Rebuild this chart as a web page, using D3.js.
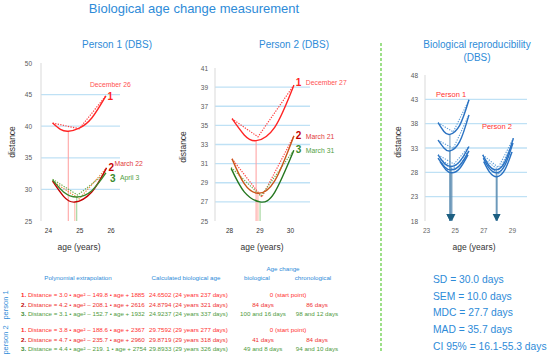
<!DOCTYPE html>
<html>
<head>
<meta charset="utf-8">
<script src="https://cdn.jsdelivr.net/npm/d3@7"></script>
<style>
  body { margin: 0; background: #fff; }
  svg { display: block; font-family: "Liberation Sans", Arial, sans-serif; }
</style>
</head>
<body>
<div id="chart"></div>
<script>
/// DATA

// panel 1 - person 1
const p1YTicks = [25, 30, 35, 40, 45, 50]
const p1XTicks = [24, 25, 26]
const p1Fits = [
  [[24.15, 40.5], [24.4, 39.5], [24.65, 39.2], [25.0, 39.7], [25.4, 41.3], [25.85, 44.8]],
  [[24.15, 31.3], [24.5, 28.9], [24.86, 28.0], [25.4, 29.6], [25.87, 33.4]],
  [[24.15, 31.5], [24.5, 29.6], [24.92, 28.8], [25.4, 29.8], [25.85, 32.6]],
]
const p1Obs = [
  [[24.15, 40.5], [25.0, 39.6], [25.85, 44.8]],
  [[24.15, 31.3], [25.0, 28.5], [25.87, 33.4]],
  [[24.15, 31.6], [24.95, 29.1], [25.85, 32.6]],
]
const p1Dates = ["December 26", "March 22", "April 3"]

// panel 2 - person 2
const p2YTicks = [25, 27, 29, 31, 33, 35, 37, 39, 41]
const p2XTicks = [28, 29, 30]
const p2Fits = [
  [[28.1, 35.7], [28.5, 34.0], [28.89, 33.4], [29.5, 34.8], [30.13, 39.2]],
  [[28.1, 31.5], [28.5, 28.9], [28.95, 27.9], [29.5, 29.2], [30.13, 33.9]],
  [[28.07, 30.5], [28.5, 28.05], [29.02, 27.0], [29.5, 28.0], [30.13, 32.4]],
]
const p2Obs = [
  [[28.1, 35.7], [28.95, 33.8], [30.13, 39.2]],
  [[28.1, 31.5], [29.08, 27.5], [30.13, 33.9]],
  [[28.07, 30.6], [29.05, 27.6], [30.1, 32.3]],
]
const p2Dates = ["December 27", "March 21", "March 31"]
const runs = ["1", "2", "3"]

// panel 3 - reproducibility
const p3YTicks = [18, 23, 28, 33, 38, 43, 48]
const p3XTicks = [23, 25, 27, 29]
const p3Fits = [
  [[23.84, 38.2], [24.25, 36.4], [24.67, 35.8], [25.35, 37.65], [26.0, 42.9]],
  [[23.84, 34.6], [24.25, 33.0], [24.67, 32.4], [25.35, 34.3], [26.0, 39.8]],
  [[23.84, 31.6], [24.3, 29.8], [24.74, 29.2], [25.35, 30.2], [26.0, 33.3]],
  [[23.84, 30.9], [24.3, 29.1], [24.74, 28.5], [25.35, 29.4], [26.0, 32.4]],
  [[23.98, 30.2], [24.4, 28.5], [24.81, 27.9], [25.35, 28.8], [25.93, 31.6]],
  [[26.96, 31.6], [27.4, 29.4], [27.9, 28.5], [28.5, 30.1], [29.1, 35.0]],
  [[27.0, 30.9], [27.45, 28.7], [27.95, 27.9], [28.5, 29.4], [29.07, 34.0]],
  [[27.03, 30.2], [27.45, 28.0], [27.95, 27.1], [28.5, 28.5], [29.0, 32.2]],
]
const p3Obs = [
  [[23.84, 38.2], [24.9, 36.3], [26.0, 42.9]],
  [[23.84, 34.6], [24.9, 32.9], [26.0, 39.8]],
  [[23.84, 31.6], [24.95, 29.7], [26.0, 33.3]],
  [[23.84, 30.9], [24.95, 29.0], [26.0, 32.4]],
  [[23.98, 30.2], [25.0, 28.4], [25.93, 31.6]],
  [[26.96, 31.6], [28.05, 29.0], [29.1, 35.0]],
  [[27.0, 30.9], [28.1, 28.4], [29.07, 34.0]],
  [[27.03, 30.2], [28.1, 27.6], [29.0, 32.2]],
]
const p3Persons = ["Person 1", "Person 2"]
const p3PersonAt = [[24.75, 44.1], [27.95, 37.5]]

// table
const p1Formulas = [
  "Distance = 3.0 • age² – 149.8 • age + 1885",
  "Distance = 4.2 • age² – 208.1 • age + 2616",
  "Distance = 3.1 • age² – 152.7 • age + 1932",
]
const p2Formulas = [
  "Distance = 3.8 • age² – 188.6 • age + 2367",
  "Distance = 4.7 • age² – 235.7 • age + 2960",
  "Distance = 4.4 • age² – 219. 1 • age + 2754",
]
const p1BioAges = ["24.6502  (24 years 237 days)", "24.8794  (24 years 321 days)", "24.9237  (24 years 337 days)"]
const p2BioAges = ["29.7592  (29 years 277 days)", "29.8719  (29 years 318 days)", "29.8933  (29 years 326 days)"]
const p1BioChange = ["0 (start point)", "84 days", "100  and 16 days"]
const p1ChronoChange = ["", "86 days", "98  and 12 days"]
const p2BioChange = ["0 (start point)", "41 days", "49  and 8 days"]
const p2ChronoChange = ["", "84 days", "94  and 10 days"]

const stats = ["SD = 30.0 days", "SEM = 10.0 days", "MDC = 27.7 days", "MAD = 35.7 days", "CI 95% = 16.1-55.3 days"]

/// COLORS

const blue = "#2e8bd8"
const fitColors1 = ["#ff2424", "#c40000", "#3a8a2c"]
const fitColors2 = ["#ff2424", "#c9561a", "#25771f"]
const obsColors1 = ["#ff4040", "#f0883a", "#6fae4c"]
const obsColors2 = ["#ff4040", "#ff4848", "#6fae4c"]
const dropColors = ["#ff9c9c", "#ffb0a0", "#96cf8f"]
const numColors = ["#ff1f1f", "#c40000", "#3a8a2c"]
const dateColors = ["#ff5252", "#e23a3a", "#52a044"]
const rowColors = ["#ff3030", "#ef2f2f", "#4f9a3c"]
const numRowColors = ["#ff1f1f", "#c00000", "#3a8a2c"]

const width = 550
const height = 358
const bottomY = 221

const svg = d3
  .select("#chart")
  .append("svg")
  .attr("width", width)
  .attr("height", height)

const defs = svg.append("defs")
defs
  .append("marker")
  .attr("id", "arrow")
  .attr("markerUnits", "userSpaceOnUse")
  .attr("markerWidth", 8)
  .attr("markerHeight", 8)
  .attr("viewBox", "0 0 8 8")
  .attr("refX", 7)
  .attr("refY", 4)
  .attr("orient", "auto")
  .append("path")
  .attr("d", "M0,0.5 L7,4 L0,7.5 Z")
  .attr("fill", "#1d5f82")

/// TITLE

svg
  .append("text")
  .attr("x", 194)
  .attr("y", 13)
  .attr("text-anchor", "middle")
  .style("font-size", "13px")
  .style("fill", blue)
  .text("Biological age change measurement")

/// PANELS

const panel = function (o) {
  const x = d3.scaleLinear().domain(o.xDomain).range(o.xRange)
  const y = d3
    .scaleLinear()
    .domain([o.yTicks[0], o.yTicks[o.yTicks.length - 1]])
    .range([bottomY, o.yTop])

  const g = svg.append("g")

  // gridlines
  g.selectAll(".grid")
    .data(o.yTicks.slice(1, -1))
    .join("line")
    .attr("x1", o.xRange[0])
    .attr("x2", o.xRange[1])
    .attr("y1", (d) => y(d))
    .attr("y2", (d) => y(d))
    .attr("stroke", "#bfe1f5")
    .attr("stroke-width", 1.3)

  g.append("line")
    .attr("x1", o.xRange[0])
    .attr("x2", o.xRange[0])
    .attr("y1", y.range()[1])
    .attr("y2", y.range()[0])
    .attr("stroke", "#d9d9d9")

  const yAxis = g
    .append("g")
    .attr("transform", `translate(${o.xRange[0]},0)`)
    .call(d3.axisLeft(y).tickValues(o.yTicks).tickSize(0).tickPadding(o.pad))
  yAxis.select(".domain").remove()
  yAxis.selectAll("text").style("font-size", "6.5px").style("fill", "#595959").style("font-family", "Liberation Sans, Arial")

  const xAxis = g
    .append("g")
    .attr("transform", `translate(0,${bottomY})`)
    .call(d3.axisBottom(x).tickValues(o.xTicks).tickFormat(d3.format("d")).tickSize(0).tickPadding(7))
  xAxis.select(".domain").remove()
  xAxis.selectAll("text").style("font-size", "6.5px").style("fill", o.xTickColor).style("font-family", "Liberation Sans, Arial")

  g.append("text")
    .attr("x", o.xLabel)
    .attr("y", 250)
    .attr("text-anchor", "middle")
    .style("font-size", "8.5px")
    .style("fill", "#333")
    .text("age (years)")

  g.append("text")
    .attr("transform", `translate(${o.yLabel},${o.yLabelY}) rotate(-90)`)
    .attr("text-anchor", "middle")
    .style("font-size", "8.5px")
    .style("fill", "#333")
    .text("distance")

  o.titles.forEach((t, i) => {
    g.append("text")
      .attr("x", o.titleX)
      .attr("y", 48 + i * 13)
      .attr("text-anchor", "middle")
      .style("font-size", "10px")
      .style("fill", blue)
      .text(t)
  })

  return { g, x, y }
}

const line = (x, y) =>
  d3
    .line()
    .x((d) => x(d[0]))
    .y((d) => y(d[1]))

const drawRuns = function (p, fits, obs, fitColors, obsColors, numDx, numDy) {
  const { g, x, y } = p
  const vertices = fits.map((f) => d3.least(f, (d) => d[1]))

  g.selectAll(".drop")
    .data(vertices)
    .join("line")
    .attr("x1", (d) => x(d[0]))
    .attr("x2", (d) => x(d[0]))
    .attr("y1", (d) => y(d[1]))
    .attr("y2", bottomY)
    .attr("stroke", (d, i) => dropColors[i])
    .attr("stroke-width", 1)

  g.selectAll(".obs")
    .data(obs)
    .join("path")
    .attr("d", line(x, y))
    .attr("fill", "none")
    .attr("stroke", (d, i) => obsColors[i])
    .attr("stroke-width", 1.2)
    .attr("stroke-dasharray", "1.3,1.3")

  g.selectAll(".fit")
    .data(fits)
    .join("path")
    .attr("d", line(x, y).curve(d3.curveNatural))
    .attr("fill", "none")
    .attr("stroke", (d, i) => fitColors[i])
    .attr("stroke-width", 1.4)

  fits.forEach((f, i) => {
    const end = f[f.length - 1]
    g.append("text")
      .attr("x", x(end[0]) + numDx[i])
      .attr("y", y(end[1]) + numDy[i])
      .style("font-size", "10px")
      .style("font-weight", "bold")
      .style("fill", numColors[i])
      .text(runs[i])
  })
  return vertices
}

// person 1
const p1 = panel({
  xDomain: [23.78, 26.3],
  xRange: [41, 120],
  yTicks: p1YTicks,
  xTicks: p1XTicks,
  yTop: 63,
  pad: 9,
  xTickColor: "#333",
  xLabel: 79,
  yLabel: 15,
  yLabelY: 142,
  titleX: 117,
  titles: ["Person 1 (DBS)"],
})
drawRuns(p1, p1Fits, p1Obs, fitColors1, obsColors1, [1.5, 2, 4], [4, 3, 9])
p1Dates.forEach((d, i) => {
  const end = p1Fits[i][p1Fits[i].length - 1]
  p1.g
    .append("text")
    .attr("x", i === 0 ? p1.x(end[0]) - 16 : p1.x(end[0]) + (i === 1 ? 8 : 14))
    .attr("y", i === 0 ? p1.y(end[1]) - 9 : p1.y(end[1]) + (i === 1 ? -2 : 7))
    .style("font-size", "6.8px")
    .style("fill", dateColors[i])
    .text(d)
})

// person 2
const p2 = panel({
  xDomain: [27.54, 30.66],
  xRange: [215, 310],
  yTicks: p2YTicks,
  xTicks: p2XTicks,
  yTop: 68,
  pad: 7,
  xTickColor: "#333",
  xLabel: 262,
  yLabel: 186,
  yLabelY: 147,
  titleX: 294,
  titles: ["Person 2 (DBS)"],
})
drawRuns(p2, p2Fits, p2Obs, fitColors2, obsColors2, [2, 2, 2], [1, 3, 3])
p2Dates.forEach((d, i) => {
  const end = p2Fits[i][p2Fits[i].length - 1]
  p2.g
    .append("text")
    .attr("x", p2.x(end[0]) + 12)
    .attr("y", p2.y(end[1]) + (i === 0 ? 0 : 3))
    .style("font-size", "6.8px")
    .style("fill", dateColors[i])
    .text(d)
})

// reproducibility
const p3 = panel({
  xDomain: [22.93, 30.05],
  xRange: [425, 527],
  yTicks: p3YTicks,
  xTicks: p3XTicks,
  yTop: 75,
  pad: 7,
  xTickColor: "#666",
  xLabel: 474,
  yLabel: 401,
  yLabelY: 142,
  titleX: 477,
  titles: ["Biological reproducibility", "(DBS)"],
})
const p3Vertices = p3Fits.map((f) => d3.least(f, (d) => d[1]))
p3.g
  .selectAll(".drop")
  .data(p3Vertices)
  .join("line")
  .attr("x1", (d) => p3.x(d[0]))
  .attr("x2", (d) => p3.x(d[0]))
  .attr("y1", (d) => p3.y(d[1]))
  .attr("y2", bottomY)
  .attr("stroke", "#5f8fb3")
  .attr("stroke-width", 0.9)
  .attr("marker-end", "url(#arrow)")

p3.g
  .selectAll(".obs")
  .data(p3Obs)
  .join("path")
  .attr("d", line(p3.x, p3.y))
  .attr("fill", "none")
  .attr("stroke", "#5b9bd5")
  .attr("stroke-width", 1.1)
  .attr("stroke-dasharray", "1.3,1.3")

p3.g
  .selectAll(".fit")
  .data(p3Fits)
  .join("path")
  .attr("d", line(p3.x, p3.y).curve(d3.curveNatural))
  .attr("fill", "none")
  .attr("stroke", "#2a72c2")
  .attr("stroke-width", 1.4)

p3.g
  .selectAll(".person")
  .data(p3Persons)
  .join("text")
  .attr("x", (d, i) => p3.x(p3PersonAt[i][0]))
  .attr("y", (d, i) => p3.y(p3PersonAt[i][1]) + 3)
  .attr("text-anchor", "middle")
  .style("font-size", "7.5px")
  .style("fill", "#ff3030")
  .text((d) => d)

/// DIVIDER

svg
  .append("line")
  .attr("x1", 381)
  .attr("x2", 381)
  .attr("y1", 43)
  .attr("y2", 352)
  .attr("stroke", "#5ccb3a")
  .attr("stroke-width", 1.2)
  .attr("stroke-dasharray", "3,2")

/// STATS

svg
  .selectAll(".stat")
  .data(stats)
  .join("text")
  .attr("x", 433)
  .attr("y", (d, i) => 283 + i * 16.7)
  .style("font-size", "10.3px")
  .style("fill", blue)
  .text((d) => d)

/// TABLE

const table = svg.append("g").style("font-size", "6.2px").style("white-space", "pre")

const headers = [
  ["Polynomial extrapolation", 78, 280],
  ["Calculated biological age", 186, 280],
  ["Age change", 283, 271],
  ["biological", 257, 280],
  ["chronological", 313, 280],
]
table
  .selectAll(".head")
  .data(headers)
  .join("text")
  .attr("x", (d) => d[1])
  .attr("y", (d) => d[2])
  .attr("text-anchor", "middle")
  .style("fill", blue)
  .text((d) => d[0])

const rows = (formulas, ages, bio, chrono, y0, label) => {
  formulas.forEach((f, i) => {
    const y = y0 + i * 9.7
    const t = table.append("text").attr("x", 21).attr("y", y)
    t.append("tspan").style("font-weight", "bold").style("fill", numRowColors[i]).text(runs[i] + ". ")
    t.append("tspan").style("fill", rowColors[i]).text(f)
    table.append("text").attr("x", 149).attr("y", y).style("fill", rowColors[i]).text(ages[i])
    table
      .append("text")
      .attr("x", i === 0 ? 288 : 263)
      .attr("y", y)
      .attr("text-anchor", "middle")
      .style("fill", rowColors[i])
      .text(bio[i])
    table
      .append("text")
      .attr("x", 317)
      .attr("y", y)
      .attr("text-anchor", "middle")
      .style("fill", rowColors[i])
      .text(chrono[i])
  })
  table
    .append("text")
    .attr("transform", `translate(8,${y0 + 8}) rotate(-90)`)
    .attr("text-anchor", "middle")
    .style("font-size", "7.5px")
    .style("fill", blue)
    .text(label)
}
rows(p1Formulas, p1BioAges, p1BioChange, p1ChronoChange, 297, "person 1")
rows(p2Formulas, p2BioAges, p2BioChange, p2ChronoChange, 332, "person 2")
</script>
</body>
</html>
